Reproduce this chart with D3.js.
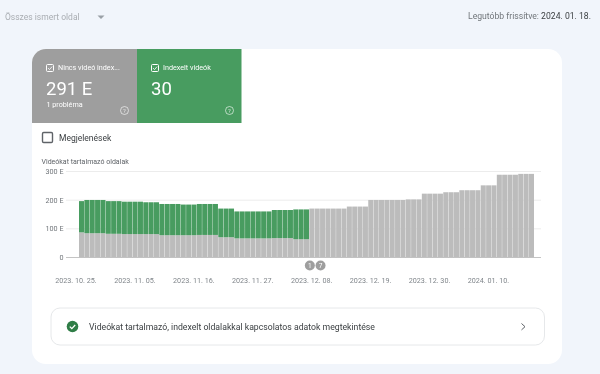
<!DOCTYPE html>
<html>
<head>
<meta charset="utf-8">
<script src="https://cdnjs.cloudflare.com/ajax/libs/d3/7.8.5/d3.min.js"></script>
<style>
  html, body { margin: 0; padding: 0; background: #f1f5fb; overflow: hidden; }
  svg { display: block; font-family: Roboto, sans-serif; filter: blur(0.35px); }
</style>
</head>
<body>
<script>
// napi adatok: 2023. 10. 25. - 2024. 01. 17.
const startDate = new Date(Date.UTC(2023, 9, 25));
const dayCount = 85;
const greyValues = [
  87, 84, 84, 84, 84, 82, 82, 82, 81, 81, 81, 81, 81, 81, 81, 77, 77, 77, 77, 77, 77,
  77, 78, 78, 78, 78, 70, 70, 70, 66, 66, 66, 66, 66, 66, 66, 67, 67, 67, 67, 63, 63, 63,
  170, 170, 170, 170, 170, 170, 170, 177, 177, 177, 177, 200, 200, 200, 200, 200, 200, 200,
  202, 202, 202, 222, 222, 222, 222, 227, 227, 227, 234, 234, 234, 234, 251, 251, 251,
  288, 288, 288, 288, 291, 291, 291
];
const greenValues = [
  109, 116, 116, 116, 116, 114, 114, 114, 113, 113, 113, 113, 111, 111, 111, 109, 109, 109, 109, 107, 107,
  107, 108, 108, 108, 108, 100, 100, 100, 94, 94, 94, 94, 94, 94, 94, 98, 98, 98, 98, 104, 104, 104
];
const yTicks = [0, 100, 200, 300];
const yTickLabels = ["0", "100 E", "200 E", "300 E"];
const xTickDays = [0, 11, 22, 33, 44, 55, 66, 77];
const xTickLabels = ["2023. 10. 25.", "2023. 11. 05.", "2023. 11. 16.", "2023. 11. 27.",
  "2023. 12. 08.", "2023. 12. 19.", "2023. 12. 30.", "2024. 01. 10."];
const eventLabels = ["1", "7"];
const eventDays = [43, 45];

const svg = d3.select("body").append("svg")
  .attr("width", 600)
  .attr("height", 374);

function label(x, y, str, size, fill, anchor, weight) {
  return svg.append("text")
    .attr("x", x).attr("y", y)
    .attr("font-size", size)
    .attr("fill", fill)
    .attr("text-anchor", anchor || "start")
    .attr("font-weight", weight || 400)
    .text(str);
}

// fejlec
label(5, 20, "Összes ismert oldal", 8.5, "#a9adb2");
svg.append("path").attr("d", "M97.5 15.5h7l-3.5 3.5z").attr("fill", "#9aa0a6");
const updated = label(591, 19, "Legutóbb frissítve: ", 8.65, "#70757a", "end");
updated.append("tspan").attr("fill", "#3c4043").text("2024. 01. 18.");

// feher kartya
svg.append("rect")
  .attr("x", 32).attr("y", 49)
  .attr("width", 530).attr("height", 315)
  .attr("rx", 14)
  .attr("fill", "#fff");

// metrika kartyak
svg.append("path")
  .attr("d", "M32 123V63a14 14 0 0 1 14-14H137V123z")
  .attr("fill", "#9e9e9e");
svg.append("rect")
  .attr("x", 137).attr("y", 49)
  .attr("width", 104.5).attr("height", 74)
  .attr("fill", "#489c60");

function metric(x, title, value, sub) {
  svg.append("rect")
    .attr("x", x + 14.5).attr("y", 64.5)
    .attr("width", 7).attr("height", 7)
    .attr("rx", 1)
    .attr("fill", "none").attr("stroke", "#fff");
  svg.append("path")
    .attr("d", `M${x + 16} 68l1.5 1.6 2.6-3`)
    .attr("fill", "none").attr("stroke", "#fff").attr("stroke-width", 0.8);
  label(x + 26, 70, title, 7.2, "#fff");
  label(x + 14, 94.5, value, 18.5, "#fff");
  if (sub) label(x + 14.5, 107, sub, 7.2, "#fff");
  // sugo ikon
  svg.append("circle")
    .attr("cx", x + 92.5).attr("cy", 110.5).attr("r", 4)
    .attr("fill", "none").attr("stroke", "#fff").attr("stroke-opacity", 0.6);
  label(x + 92.5, 113, "?", 6, "#fff", "middle").attr("opacity", 0.7);
}
metric(32, "Nincs videó index...", "291 E", "1 probléma");
metric(137, "Indexelt videók", "30");

// Megjelenesek
svg.append("rect")
  .attr("x", 42.5).attr("y", 132.5)
  .attr("width", 10).attr("height", 10)
  .attr("rx", 1.2)
  .attr("fill", "none").attr("stroke", "#5f6368").attr("stroke-width", 1.4);
label(59, 141, "Megjelenések", 8.5, "#3c4043");

// diagram
label(41.5, 164, "Videókat tartalmazó oldalak", 7, "#5f6368");

const x = d3.scaleBand()
  .domain(d3.range(dayCount))
  .range([79, 534])
  .paddingInner(0.06)
  .paddingOuter(0);
const y = d3.scaleLinear()
  .domain([0, 300])
  .range([257.3, 171.3]);

// racsvonalak
svg.append("g").selectAll("line").data(yTicks).join("line")
  .attr("x1", 66).attr("x2", 541)
  .attr("y1", d => y(d) + 0.2).attr("y2", d => y(d) + 0.2)
  .attr("stroke", d => d === 0 ? "#c4c4c4" : "#ececec");

const yAxis = d3.axisLeft(y)
  .tickValues(yTicks)
  .tickFormat((d, i) => yTickLabels[i])
  .tickSize(0)
  .tickPadding(0);
const yG = svg.append("g").attr("transform", "translate(63.5,0)").call(yAxis);
yG.select(".domain").remove();
yG.selectAll("text")
  .attr("font-family", "Roboto, sans-serif")
  .attr("font-size", 7.2)
  .attr("fill", "#70757a");

// oszlopok
svg.append("g").selectAll("rect").data(greyValues).join("rect")
  .attr("x", (d, i) => x(i))
  .attr("width", x.bandwidth())
  .attr("y", d => y(d))
  .attr("height", d => y(0) - y(d))
  .attr("fill", "#bcbcbc");
svg.append("g").selectAll("rect").data(greenValues).join("rect")
  .attr("x", (d, i) => x(i))
  .attr("width", x.bandwidth())
  .attr("y", (d, i) => y(greyValues[i] + d))
  .attr("height", d => y(0) - y(d))
  .attr("fill", "#489c60");

// x tengely feliratok
svg.append("g").selectAll("text").data(xTickDays).join("text")
  .attr("x", d => x(d) - 3)
  .attr("y", 282.5)
  .attr("text-anchor", "middle")
  .attr("font-size", 7.2)
  .attr("fill", "#80868b")
  .text((d, i) => xTickLabels[i]);

// esemeny jelolok
const eventG = svg.append("g").selectAll("g").data(eventDays).join("g")
  .attr("transform", d => `translate(${x(d) + 0.5},265.5)`);
eventG.append("circle").attr("r", 5).attr("fill", "#9e9e9e");
eventG.append("text")
  .attr("y", 2.3)
  .attr("text-anchor", "middle")
  .attr("font-size", 6.5)
  .attr("fill", "#fff")
  .text((d, i) => eventLabels[i]);

// also sor
svg.append("rect")
  .attr("x", 51).attr("y", 308)
  .attr("width", 493.5).attr("height", 37)
  .attr("rx", 9)
  .attr("fill", "#fff").attr("stroke", "#e6e8ea");
svg.append("circle").attr("cx", 72.5).attr("cy", 326.5).attr("r", 5.8).attr("fill", "#2f7d46");
svg.append("path")
  .attr("d", "M69.8 326.6l2 2 3.4-3.6")
  .attr("fill", "none").attr("stroke", "#fff").attr("stroke-width", 1.3);
label(89, 329.5, "Videókat tartalmazó, indexelt oldalakkal kapcsolatos adatok megtekintése", 8.7, "#3c4043");
svg.append("path")
  .attr("d", "M521.5 323.5l3.5 3.2-3.5 3.2")
  .attr("fill", "none").attr("stroke", "#5f6368").attr("stroke-width", 1);
</script>
</body>
</html>
